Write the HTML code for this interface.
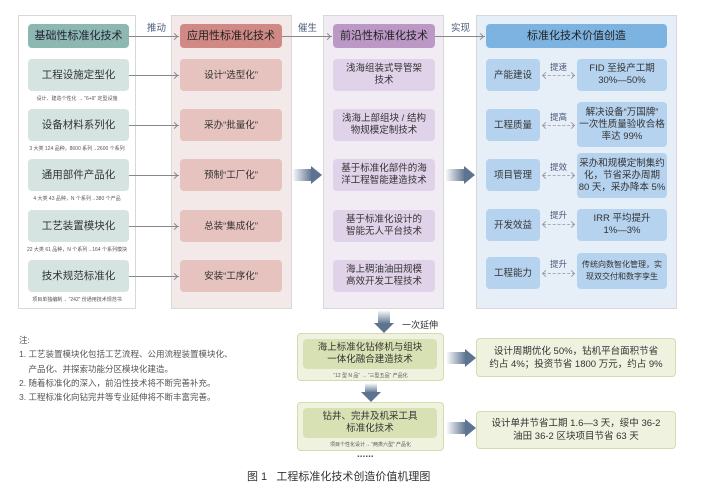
<!DOCTYPE html>
<html><head><meta charset="utf-8"><style>
*{margin:0;padding:0;box-sizing:border-box}
body{width:705px;height:499px;background:#fff;position:relative;font-family:"Liberation Sans","Noto Sans CJK SC",sans-serif;color:#333;overflow:hidden}
.a{position:absolute}
.panel{position:absolute;top:15px;height:294px;border:1px solid #d8d8d8}
.b{position:absolute;border-radius:4px;display:flex;align-items:center;justify-content:center;text-align:center;line-height:15px}
.cap{position:absolute;font-size:5px;color:#555;text-align:center;white-space:nowrap}
.lbl{position:absolute;font-size:9.5px;color:#4a5a78}
.ln{position:absolute;height:1px;background:#888}
.ah{position:absolute;width:5px;height:5px;border-top:1px solid #888;border-right:1px solid #888;transform:rotate(45deg)}
.al{position:absolute;width:5px;height:5px;border-bottom:1px solid #99a;border-left:1px solid #99a;transform:rotate(45deg)}
.ar{position:absolute;width:5px;height:5px;border-top:1px solid #99a;border-right:1px solid #99a;transform:rotate(45deg)}
.big{position:absolute;height:12px;background:linear-gradient(90deg,#fff,#5d7390)}
.bigh{position:absolute;width:0;height:0;border-top:9px solid transparent;border-bottom:9px solid transparent;border-left:11px solid #5d7390}
.dash{position:absolute;height:0;border-top:1px dashed #aab}
.sm{font-size:9.5px;line-height:12px}
</style></head><body>
<!-- col1 -->
<div class="panel" style="left:18px;width:118px;background:#fff"></div>
<div class="b" style="left:28px;top:24px;width:101px;height:24px;background:#8db8b2;font-size:11px;color:#223">基础性标准化技术</div>
<div class="b" style="left:28px;top:59px;width:101px;height:32px;background:#d5e4e1;font-size:10.5px">工程设施定型化</div>
<div class="cap" style="left:18px;width:118px;top:95px">设计、建造个性化 → “6+9” 定型设施</div>
<div class="b" style="left:28px;top:109px;width:101px;height:32px;background:#d5e4e1;font-size:10.5px">设备材料系列化</div>
<div class="cap" style="left:18px;width:118px;top:145px">3 大类 124 品种，8600 系列→2600 个系列</div>
<div class="b" style="left:28px;top:159px;width:101px;height:32px;background:#d5e4e1;font-size:10.5px">通用部件产品化</div>
<div class="cap" style="left:18px;width:118px;top:195px">4 大类 43 品种，N 个系列→380 个产品</div>
<div class="b" style="left:28px;top:210px;width:101px;height:32px;background:#d5e4e1;font-size:10.5px">工艺装置模块化</div>
<div class="cap" style="left:18px;width:118px;top:246px">22 大类 61 品种，N 个系列→164 个系列模块</div>
<div class="b" style="left:28px;top:260px;width:101px;height:32px;background:#d5e4e1;font-size:10.5px">技术规范标准化</div>
<div class="cap" style="left:18px;width:118px;top:296px">项目单独编制→ “242” 份通用技术规范书</div>
<!-- col2 -->
<div class="panel" style="left:171px;width:121px;background:#f4e9e9"></div>
<div class="b" style="left:180px;top:24px;width:102px;height:24px;background:#d08985;font-size:11px;color:#222">应用性标准化技术</div>
<div class="b" style="left:180px;top:59px;width:102px;height:32px;background:#e6c3bf;font-size:9.5px">设计“选型化”</div>
<div class="b" style="left:180px;top:109px;width:102px;height:32px;background:#e6c3bf;font-size:9.5px">采办“批量化”</div>
<div class="b" style="left:180px;top:159px;width:102px;height:32px;background:#e6c3bf;font-size:9.5px">预制“工厂化”</div>
<div class="b" style="left:180px;top:210px;width:102px;height:32px;background:#e6c3bf;font-size:9.5px">总装“集成化”</div>
<div class="b" style="left:180px;top:260px;width:102px;height:32px;background:#e6c3bf;font-size:9.5px">安装“工序化”</div>
<!-- col3 -->
<div class="panel" style="left:323px;width:121px;background:#f1ecf3"></div>
<div class="b" style="left:333px;top:24px;width:102px;height:24px;background:#bb98c6;font-size:11px;color:#222">前沿性标准化技术</div>
<div class="b sm" style="left:333px;top:59px;width:102px;height:32px;background:#e0d2e8">浅海组装式导管架<br>技术</div>
<div class="b sm" style="left:333px;top:109px;width:102px;height:32px;background:#e0d2e8">浅海上部组块 / 结构<br>物规模定制技术</div>
<div class="b sm" style="left:333px;top:159px;width:102px;height:32px;background:#e0d2e8">基于标准化部件的海<br>洋工程智能建造技术</div>
<div class="b sm" style="left:333px;top:210px;width:102px;height:32px;background:#e0d2e8">基于标准化设计的<br>智能无人平台技术</div>
<div class="b sm" style="left:333px;top:260px;width:102px;height:32px;background:#e0d2e8">海上稠油油田规模<br>高效开发工程技术</div>
<!-- col4 -->
<div class="panel" style="left:476px;width:201px;background:#e6eef8"></div>
<div class="b" style="left:486px;top:24px;width:181px;height:24px;background:#7cb3e1;font-size:11px;color:#222">标准化技术价值创造</div>
<div class="b" style="left:486px;top:59px;width:54px;height:32px;background:#b5d2ee;font-size:9.5px">产能建设</div>
<div class="b" style="left:486px;top:109px;width:54px;height:32px;background:#b5d2ee;font-size:9.5px">工程质量</div>
<div class="b" style="left:486px;top:159px;width:54px;height:32px;background:#b5d2ee;font-size:9.5px">项目管理</div>
<div class="b" style="left:486px;top:209px;width:54px;height:32px;background:#b5d2ee;font-size:9.5px">开发效益</div>
<div class="b" style="left:486px;top:257px;width:54px;height:32px;background:#b5d2ee;font-size:9.5px">工程能力</div>
<div class="b sm" style="left:577px;top:59px;width:90px;height:32px;background:#b5d2ee">FID 至投产工期<br>30%—50%</div>
<div class="b sm" style="left:577px;top:102px;width:90px;height:45px;background:#b5d2ee">解决设备“万国牌”<br>一次性质量验收合格<br>率达 99%</div>
<div class="b sm" style="left:577px;top:153px;width:90px;height:45px;background:#b5d2ee">采办和规模定制集约<br>化，节省采办周期<br>80 天，采办降本 5%</div>
<div class="b sm" style="left:577px;top:209px;width:90px;height:32px;background:#b5d2ee">IRR 平均提升<br>1%—3%</div>
<div class="b" style="left:577px;top:253px;width:90px;height:36px;background:#b5d2ee;font-size:8px;line-height:12px">传统向数智化管理，实<br>现双交付和数字孪生</div>
<div class="lbl" style="left:550px;top:61px;font-size:8.5px">提速</div>
<div class="lbl" style="left:550px;top:111px;font-size:8.5px">提高</div>
<div class="lbl" style="left:550px;top:161px;font-size:8.5px">提效</div>
<div class="lbl" style="left:550px;top:209px;font-size:8.5px">提升</div>
<div class="lbl" style="left:550px;top:258px;font-size:8.5px">提升</div>
<div class="dash" style="left:543px;top:75px;width:32px"></div><div class="al" style="left:543px;top:72.5px"></div><div class="ar" style="left:569px;top:72.5px"></div>
<div class="dash" style="left:543px;top:125px;width:32px"></div><div class="al" style="left:543px;top:122.5px"></div><div class="ar" style="left:569px;top:122.5px"></div>
<div class="dash" style="left:543px;top:175px;width:32px"></div><div class="al" style="left:543px;top:172.5px"></div><div class="ar" style="left:569px;top:172.5px"></div>
<div class="dash" style="left:543px;top:224px;width:32px"></div><div class="al" style="left:543px;top:221.5px"></div><div class="ar" style="left:569px;top:221.5px"></div>
<div class="dash" style="left:543px;top:273px;width:32px"></div><div class="al" style="left:543px;top:270.5px"></div><div class="ar" style="left:569px;top:270.5px"></div>
<!-- connectors -->
<div class="lbl" style="left:147px;top:20px">推动</div>
<div class="lbl" style="left:298px;top:20px">催生</div>
<div class="lbl" style="left:451px;top:20px">实现</div>
<div class="ln" style="left:129px;top:36px;width:50px"></div><div class="ah" style="left:172px;top:33.5px"></div>
<div class="ln" style="left:282px;top:36px;width:50px"></div><div class="ah" style="left:325px;top:33.5px"></div>
<div class="ln" style="left:435px;top:36px;width:50px"></div><div class="ah" style="left:478px;top:33.5px"></div>
<div class="ln" style="left:129px;top:75px;width:50px"></div><div class="ah" style="left:172px;top:72.5px"></div>
<div class="ln" style="left:129px;top:125px;width:50px"></div><div class="ah" style="left:172px;top:122.5px"></div>
<div class="ln" style="left:129px;top:175px;width:50px"></div><div class="ah" style="left:172px;top:172.5px"></div>
<div class="ln" style="left:129px;top:226px;width:50px"></div><div class="ah" style="left:172px;top:223.5px"></div>
<div class="ln" style="left:129px;top:276px;width:50px"></div><div class="ah" style="left:172px;top:273.5px"></div>
<div class="big" style="left:292px;top:169px;width:20px"></div><div class="bigh" style="left:311px;top:166px"></div>
<div class="big" style="left:445px;top:169px;width:20px"></div><div class="bigh" style="left:464px;top:166px"></div>
<!-- notes -->
<div class="a" style="left:19px;top:333px;font-size:8.5px;color:#555;line-height:14.3px">注:<br>1. 工艺装置模块化包括工艺流程、公用流程装置模块化、<br>&nbsp;&nbsp;&nbsp;&nbsp;产品化、并探索功能分区模块化建造。<br>2. 随着标准化的深入，前沿性技术将不断完善补充。<br>3. 工程标准化向钻完井等专业延伸将不断丰富完善。</div>
<!-- bottom -->
<div class="a" style="left:378px;top:310px;width:12px;height:14px;background:linear-gradient(#fff,#5d7390)"></div>
<div class="a" style="left:374px;top:323px;border-left:10px solid transparent;border-right:10px solid transparent;border-top:10px solid #5d7390"></div>
<div class="a" style="left:402px;top:318px;font-size:9px;color:#333">一次延伸</div>
<div class="a" style="left:297px;top:333px;width:147px;height:48px;background:#eef2df;border:1px solid #d3dcaf;border-radius:4px"></div>
<div class="b" style="left:303px;top:339px;width:134px;height:30px;background:#d8e1b3;font-size:9.5px;line-height:12px">海上标准化钻修机与组块<br>一体化融合建造技术</div>
<div class="cap" style="left:297px;width:147px;top:372px">“12 型 N 品” → “三型五品” 产品化</div>
<div class="big" style="left:446px;top:352px;width:20px"></div><div class="bigh" style="left:465px;top:349px"></div>
<div class="b" style="left:476px;top:338px;width:200px;height:39px;background:#eef2df;border:1px solid #d3dcaf;font-size:9.5px;line-height:13px">设计周期优化 50%，钻机平台面积节省<br>约占 4%；投资节省 1800 万元，约占 9%</div>
<div class="a" style="left:365px;top:383px;width:12px;height:10px;background:linear-gradient(#fff,#5d7390)"></div>
<div class="a" style="left:361px;top:392px;border-left:10px solid transparent;border-right:10px solid transparent;border-top:10px solid #5d7390"></div>
<div class="a" style="left:297px;top:402px;width:147px;height:49px;background:#eef2df;border:1px solid #d3dcaf;border-radius:4px"></div>
<div class="b" style="left:303px;top:408px;width:134px;height:30px;background:#d8e1b3;font-size:9.5px;line-height:12px">钻井、完井及机采工具<br>标准化技术</div>
<div class="cap" style="left:297px;width:147px;top:441px">项目个性化设计→ “两类六型” 产品化</div>
<div class="big" style="left:446px;top:422px;width:20px"></div><div class="bigh" style="left:465px;top:419px"></div>
<div class="b" style="left:476px;top:411px;width:200px;height:38px;background:#eef2df;border:1px solid #d3dcaf;font-size:9.5px;line-height:13px">设计单井节省工期 1.6—3 天，绥中 36-2<br>油田 36-2 区块项目节省 63 天</div>
<div class="a" style="left:357px;top:449px;font-size:10px;font-weight:bold;color:#555;letter-spacing:0px">......</div>
<div class="a" style="left:247px;top:468px;font-size:11px;color:#333">图 1&nbsp;&nbsp;&nbsp;工程标准化技术创造价值机理图</div>
</body></html>
